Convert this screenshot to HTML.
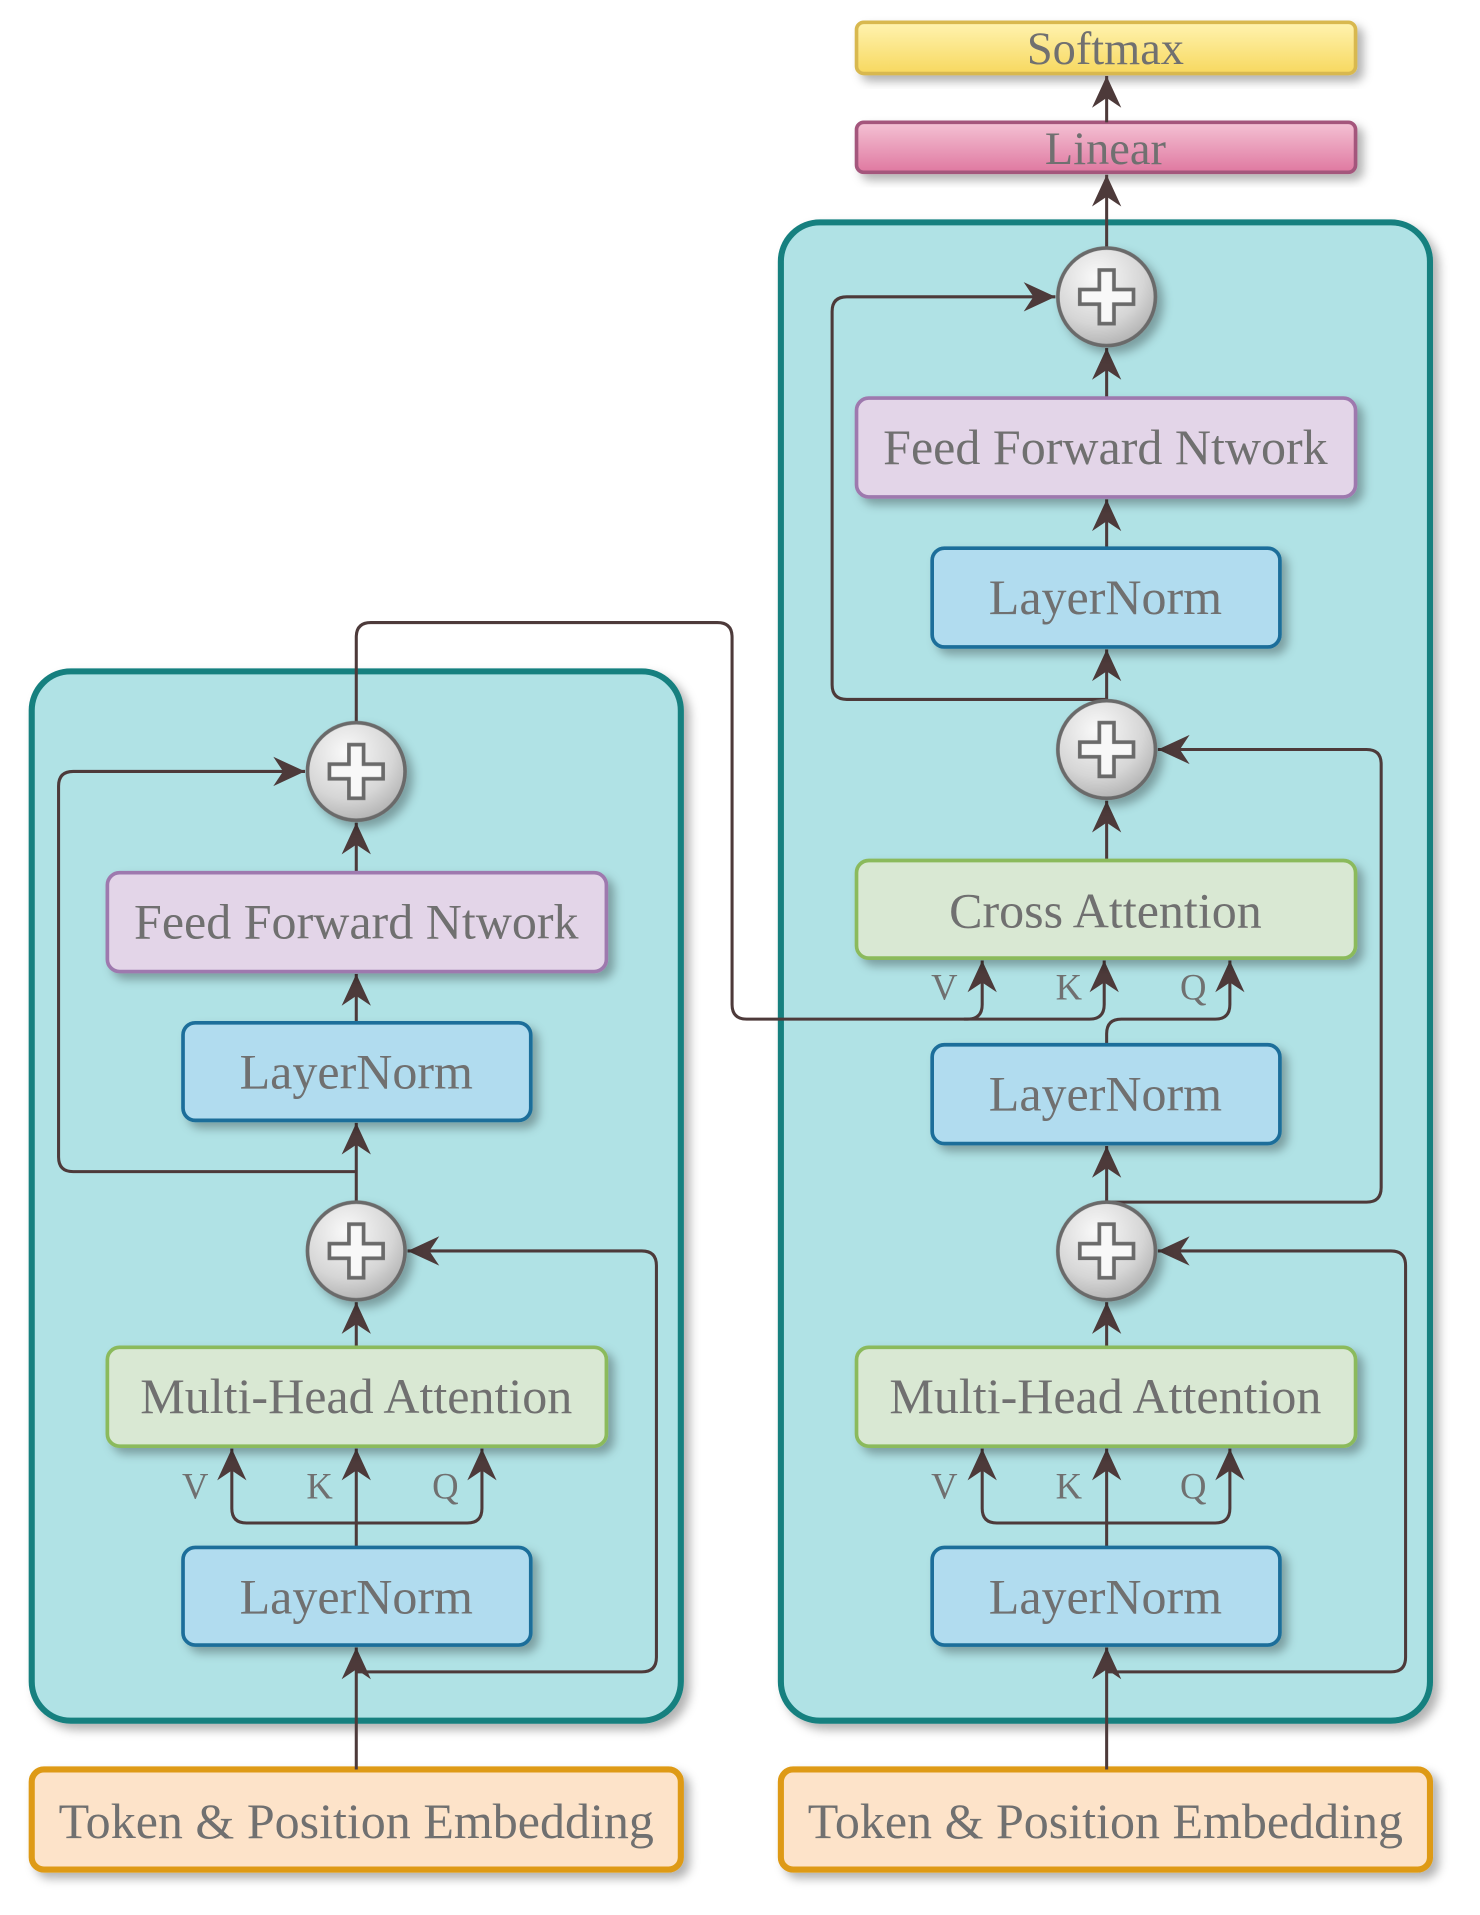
<!DOCTYPE html>
<html><head><meta charset="utf-8"><style>
html,body{margin:0;padding:0;background:#fff;}
svg{display:block;}
text{font-family:"Liberation Serif",serif;fill:#707070;}
</style></head><body>
<svg width="1480" height="1915" viewBox="0 0 1213 1569" xmlns="http://www.w3.org/2000/svg">
<defs>
<filter id="sh" x="-20%" y="-20%" width="150%" height="150%"><feDropShadow dx="5" dy="5" stdDeviation="4" flood-color="#000" flood-opacity="0.3"/></filter>
<marker id="ar" viewBox="-28 -14 30 28" refX="0" refY="0" markerWidth="30" markerHeight="28" markerUnits="userSpaceOnUse" orient="auto">
<path d="M0,0 L-26,-12 L-18,0 L-26,12 z" fill="#4d3a3a"/></marker>
<radialGradient id="cg" cx="0.4" cy="0.3" r="0.8"><stop offset="0" stop-color="#fafafa"/><stop offset="0.6" stop-color="#d6d6d6"/><stop offset="1" stop-color="#a8a8a8"/></radialGradient>
<linearGradient id="yg" x1="0" y1="0" x2="0" y2="1"><stop offset="0" stop-color="#fff3b0"/><stop offset="1" stop-color="#f7d85f"/></linearGradient>
<linearGradient id="pg" x1="0" y1="0" x2="0" y2="1"><stop offset="0" stop-color="#f4c2d4"/><stop offset="1" stop-color="#df78a0"/></linearGradient>
<g id="plus">
<circle r="40" fill="url(#cg)" stroke="#6a6a6a" stroke-width="3"/>
<path d="M-6,-22 H6 V-6 H22 V6 H6 V22 H-6 V6 H-22 V-6 H-6 Z" fill="#f8f8f8" stroke="#6a6a6a" stroke-width="3"/>
</g>
</defs>

<rect x="26" y="550" width="532" height="860" rx="32" fill="#b0e2e5" stroke="#15807f" stroke-width="5" filter="url(#sh)"/>
<rect x="640" y="182" width="532" height="1228" rx="32" fill="#b0e2e5" stroke="#15807f" stroke-width="5" filter="url(#sh)"/>

<rect x="26" y="1450" width="532" height="82" rx="10" fill="#fde3c9" stroke="#de9a12" stroke-width="5" filter="url(#sh)"/>
<rect x="640" y="1450" width="532" height="82" rx="10" fill="#fde3c9" stroke="#de9a12" stroke-width="5" filter="url(#sh)"/>
<text x="292" y="1506" font-size="41" text-anchor="middle">Token &amp; Position Embedding</text>
<text x="906" y="1506" font-size="41" text-anchor="middle">Token &amp; Position Embedding</text>

<rect x="702" y="18" width="409" height="42" rx="6" fill="url(#yg)" stroke="#d8b850" stroke-width="3" filter="url(#sh)"/>
<text x="906" y="52" font-size="38" text-anchor="middle">Softmax</text>
<rect x="702" y="100" width="409" height="41" rx="6" fill="url(#pg)" stroke="#a4577c" stroke-width="3" filter="url(#sh)"/>
<text x="906" y="134" font-size="38" text-anchor="middle">Linear</text>

<g fill="none" stroke="#4d3a3a" stroke-width="2.5" marker-end="url(#ar)">
<path d="M292,1450 V1350"/>
<path d="M292,1370 H526 Q538,1370 538,1358 V1037 Q538,1025 526,1025 H334"/>
<path d="M292,1268 V1187"/>
<path d="M292,1248 H202 Q190,1248 190,1236 V1187"/>
<path d="M292,1248 H383 Q395,1248 395,1236 V1187"/>
<path d="M292,1104 V1067"/>
<path d="M292,985 V920"/>
<path d="M292,960 H60 Q48,960 48,948 V644 Q48,632 60,632 H250"/>
<path d="M292,838 V798"/>
<path d="M292,715 V674"/>
<path d="M292,592 V522 Q292,510 304,510 H588 Q600,510 600,522 V823 Q600,835 612,835 H793 Q805,835 805,823 V787"/>
<path d="M790,835 H893 Q905,835 905,823 V787"/>
<path d="M907,1450 V1350"/>
<path d="M907,1370 H1140 Q1152,1370 1152,1358 V1037 Q1152,1025 1140,1025 H949"/>
<path d="M907,1268 V1187"/>
<path d="M907,1248 H817 Q805,1248 805,1236 V1187"/>
<path d="M907,1248 H996 Q1008,1248 1008,1236 V1187"/>
<path d="M907,1104 V1067"/>
<path d="M907,985 V939"/>
<path d="M907,985 H1120 Q1132,985 1132,973 V626 Q1132,614 1120,614 H949"/>
<path d="M907,856 V847 Q907,835 919,835 H996 Q1008,835 1008,823 V787"/>
<path d="M907,705 V656"/>
<path d="M907,574 V532"/>
<path d="M907,573 H694 Q682,573 682,561 V255 Q682,243 694,243 H865"/>
<path d="M907,449 V409"/>
<path d="M907,326 V285"/>
<path d="M907,203 V143"/>
<path d="M907,100 V62"/>
</g>

<g filter="url(#sh)" stroke-width="3">
<rect x="150" y="1268" width="285" height="80" rx="10" fill="#b1dcef" stroke="#1a6e9a"/>
<rect x="88" y="1104" width="409" height="81" rx="10" fill="#d9e8d3" stroke="#8bba5b"/>
<rect x="150" y="838" width="285" height="80" rx="10" fill="#b1dcef" stroke="#1a6e9a"/>
<rect x="88" y="715" width="409" height="81" rx="10" fill="#e3d5e8" stroke="#9e79ae"/>
<rect x="764" y="1268" width="285" height="80" rx="10" fill="#b1dcef" stroke="#1a6e9a"/>
<rect x="702" y="1104" width="409" height="81" rx="10" fill="#d9e8d3" stroke="#8bba5b"/>
<rect x="764" y="856" width="285" height="81" rx="10" fill="#b1dcef" stroke="#1a6e9a"/>
<rect x="702" y="705" width="409" height="80" rx="10" fill="#d9e8d3" stroke="#8bba5b"/>
<rect x="764" y="449" width="285" height="81" rx="10" fill="#b1dcef" stroke="#1a6e9a"/>
<rect x="702" y="326" width="409" height="81" rx="10" fill="#e3d5e8" stroke="#9e79ae"/>
</g>
<g font-size="41" text-anchor="middle">
<text x="292" y="1322">LayerNorm</text>
<text x="292" y="1158">Multi-Head Attention</text>
<text x="292" y="892">LayerNorm</text>
<text x="292" y="769">Feed Forward Ntwork</text>
<text x="906" y="1322">LayerNorm</text>
<text x="906" y="910">LayerNorm</text>
<text x="906" y="1158">Multi-Head Attention</text>
<text x="906" y="760">Cross Attention</text>
<text x="906" y="503">LayerNorm</text>
<text x="906" y="380">Feed Forward Ntwork</text>
</g>
<g font-size="30" text-anchor="middle">
<text x="160" y="1228">V</text><text x="262" y="1228">K</text><text x="365" y="1228">Q</text>
<text x="774" y="1228">V</text><text x="876" y="1228">K</text><text x="978" y="1228">Q</text>
<text x="774" y="819">V</text><text x="876" y="819">K</text><text x="978" y="819">Q</text>
</g>

<g filter="url(#sh)">
<use href="#plus" x="292" y="1025"/>
<use href="#plus" x="292" y="632"/>
<use href="#plus" x="907" y="1025"/>
<use href="#plus" x="907" y="614"/>
<use href="#plus" x="907" y="243"/>
</g>
</svg>
</body></html>
